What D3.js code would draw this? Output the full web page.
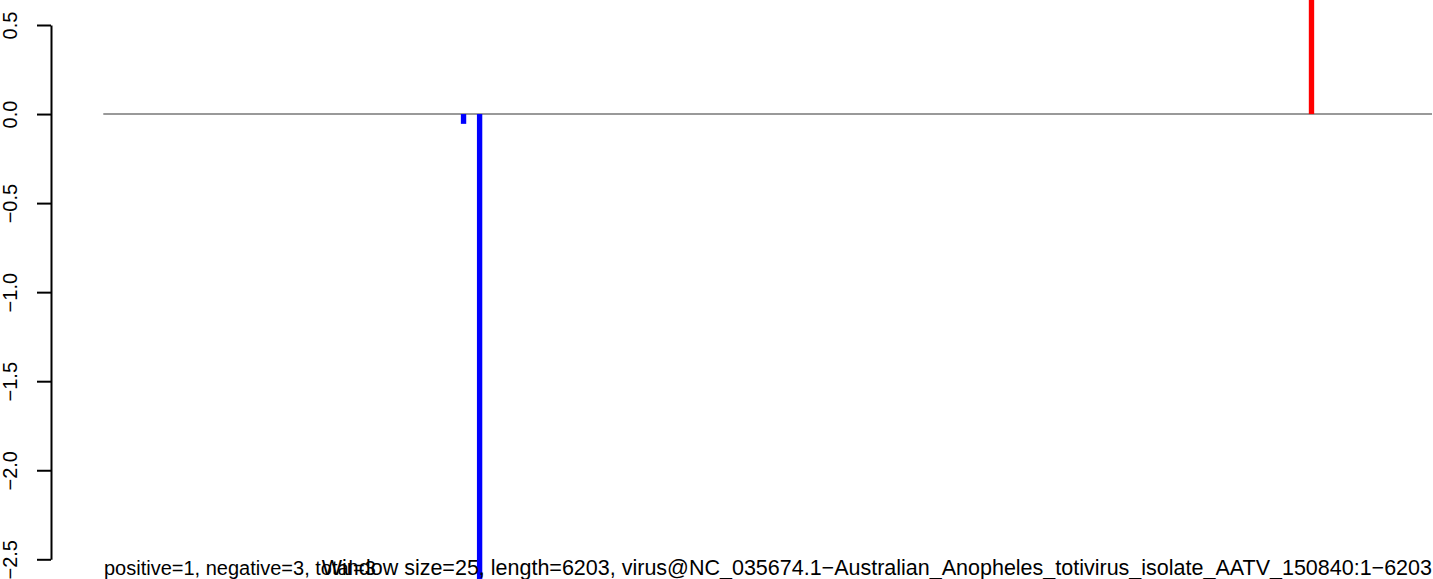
<!DOCTYPE html>
<html><head><meta charset="utf-8">
<script src="https://cdn.jsdelivr.net/npm/d3@7"></script>
<style>html,body{margin:0;padding:0;background:#fff;}svg{display:block;}</style>
</head><body>
<svg id="c" width="1433" height="579"></svg>
<script>
const seqLength = 6203;
const windowSize = 25;
const binStarts = [1670, 1745, 5628];
const binValues = [-0.055, -3.0, 1.0];
const binColors = ["#0000ff", "#0000ff", "#ff0000"];
const yTicks = [0.5, 0.0, -0.5, -1.0, -1.5, -2.0, -2.5];
const leftNote = "positive=1, negative=3, total=3";
const rightNote = "Window size=25, length=6203, virus@NC_035674.1\u2212Australian_Anopheles_totivirus_isolate_AATV_150840:1\u22126203";

const svg = d3.select("#c");
const font = "Liberation Sans, Arial, Helvetica, sans-serif";
const x = d3.scaleLinear().domain([1, seqLength]).range([103.3, 1432]);
const y = d3.scaleLinear().domain([-2.5, 0.5]).range([559.3, 25]);

// zero line
svg.append("line")
  .attr("x1", x(1)).attr("x2", x(seqLength))
  .attr("y1", y(0)).attr("y2", y(0))
  .attr("stroke", "#999").attr("stroke-width", 2);

// bars
svg.selectAll("rect.bar").data(binStarts.map((s, i) => ({s, v: binValues[i], c: binColors[i]})))
  .join("rect").attr("class", "bar")
  .attr("x", d => x(d.s))
  .attr("width", d => x(d.s + windowSize) - x(d.s))
  .attr("y", d => Math.min(y(0), y(d.v)))
  .attr("height", d => Math.abs(y(d.v) - y(0)))
  .attr("fill", d => d.c);

// y axis
const ax = svg.append("g").attr("transform", "translate(51,0)")
  .call(d3.axisLeft(y).tickValues(yTicks).tickSize(14).tickSizeOuter(0).tickFormat(d3.format(".1f")));
ax.select(".domain").attr("stroke", "#000").attr("stroke-width", 2);
ax.selectAll(".tick line").attr("stroke", "#000").attr("stroke-width", 2);
ax.selectAll(".tick text")
  .attr("x", 0).attr("y", 0).attr("dy", 0)
  .attr("transform", "translate(-34.5,0) rotate(-90)")
  .attr("text-anchor", "middle")
  .attr("fill", "#000")
  .style("font-family", font).style("font-size", "20px");

// notes (they overlap in the reference as well)
svg.append("text").attr("x", 104).attr("y", 575)
  .style("font-family", font).style("font-size", "20px").attr("fill", "#000")
  .text(leftNote);
svg.append("text").attr("x", 1432).attr("y", 575).attr("text-anchor", "end")
  .style("font-family", font).style("font-size", "21.5px").attr("fill", "#000")
  .text(rightNote);
</script>
</body></html>
